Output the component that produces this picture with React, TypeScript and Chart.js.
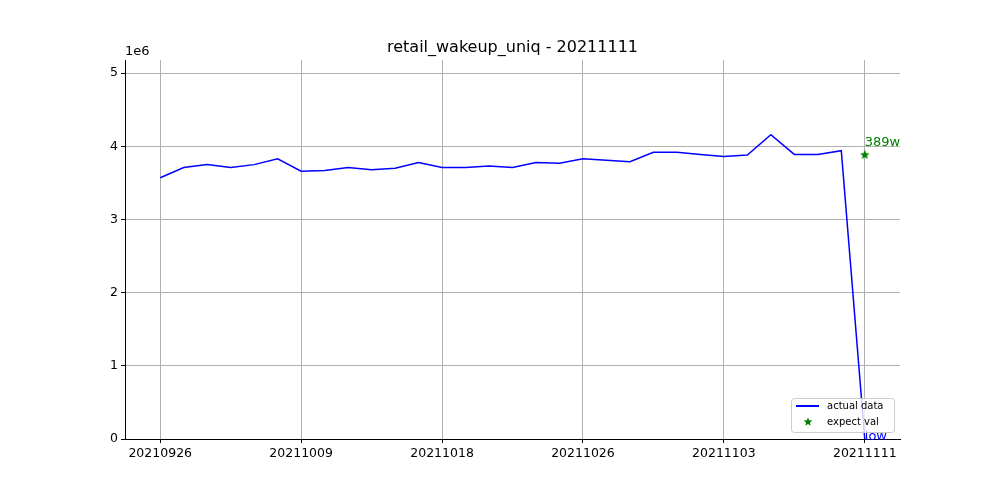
import { useRef, useEffect } from 'react';
import { Chart, registerables } from 'chart.js';

Chart.register(...registerables);

const tickLabels = ['20210926', '20211009', '20211018', '20211026', '20211103', '20211111'];
const actualData = [
  3.57, 3.71, 3.75, 3.71, 3.75, 3.83, 3.66, 3.67, 3.71, 3.68, 3.70, 3.78, 3.71, 3.71, 3.73, 3.71,
  3.78, 3.77, 3.83, 3.81, 3.79, 3.92, 3.92, 3.89, 3.86, 3.88, 4.16, 3.89, 3.89, 3.94, 0.0,
].map((v) => v * 1e6);
const expectIndex = 30;
const expectValue = 3.89e6;
const expectText = '389w';
const lowText = 'low';
const titleText = 'retail_wakeup_uniq - 20211111';

const categories = actualData.map((_, i) => String(i));
const font = 'DejaVu Sans';

function star(ctx: CanvasRenderingContext2D, cx: number, cy: number, r: number) {
  ctx.beginPath();
  for (let i = 0; i < 10; i++) {
    const rr = i % 2 === 0 ? r : r * 0.45;
    const a = -Math.PI / 2 + (i * Math.PI) / 5;
    ctx.lineTo(cx + rr * Math.cos(a), cy + rr * Math.sin(a));
  }
  ctx.closePath();
  ctx.fill();
}

function starImage() {
  const c = document.createElement('canvas');
  c.width = 12;
  c.height = 12;
  const g = c.getContext('2d')!;
  g.fillStyle = 'green';
  star(g, 6, 6.5, 5);
  return c;
}

const overlay = {
  id: 'overlay',
  afterDraw(chart: Chart) {
    const { ctx, chartArea, scales } = chart;
    const x = scales.x.getPixelForValue(expectIndex);
    ctx.save();
    ctx.fillStyle = '#000';
    ctx.font = `16px "${font}"`;
    ctx.textAlign = 'center';
    ctx.fillText(titleText, (chartArea.left + chartArea.right) / 2, chartArea.top - 8);
    ctx.textAlign = 'left';
    ctx.font = `13px "${font}"`;
    ctx.fillText('1e6', chartArea.left, chartArea.top - 5);
    ctx.fillStyle = 'green';
    ctx.fillText(expectText, x, scales.y.getPixelForValue(expectValue) - 8);
    ctx.fillStyle = 'blue';
    ctx.fillText(lowText, x, scales.y.getPixelForValue(0) + 1);
    // legend
    const lx = 791, ly = 398, lw = 103, lh = 34;
    ctx.fillStyle = 'rgba(255,255,255,0.8)';
    ctx.strokeStyle = '#ccc';
    ctx.lineWidth = 1;
    ctx.beginPath();
    ctx.roundRect(lx + 0.5, ly + 0.5, lw, lh, 3);
    ctx.fill();
    ctx.stroke();
    ctx.strokeStyle = 'blue';
    ctx.lineWidth = 2;
    ctx.beginPath();
    ctx.moveTo(796, 406);
    ctx.lineTo(819, 406);
    ctx.stroke();
    ctx.fillStyle = 'green';
    star(ctx, 808, 422, 4.5);
    ctx.fillStyle = '#000';
    ctx.font = `10px "${font}"`;
    ctx.textBaseline = 'middle';
    ctx.fillText('actual data', 827, 406);
    ctx.fillText('expect val', 827, 422);
    ctx.restore();
  },
};

export default function App() {
  const canvasRef = useRef<HTMLCanvasElement>(null);

  useEffect(() => {
    if (!canvasRef.current) return;
    const chart = new Chart(canvasRef.current, {
      type: 'line',
      data: {
        labels: categories,
        datasets: [
          {
            data: actualData,
            borderColor: 'blue',
            borderWidth: 1.5,
            pointRadius: 0,
            tension: 0,
          },
          {
            data: actualData.map((_, i) => (i === expectIndex ? expectValue : null)),
            borderColor: 'green',
            backgroundColor: 'green',
            showLine: false,
            pointStyle: starImage(),
            pointRadius: 5,
          },
        ],
      },
      options: {
        animation: false,
        responsive: false,
        layout: { padding: { left: 0, right: 100, top: 60, bottom: 36 } },
        plugins: {
          legend: { display: false },
          tooltip: { enabled: false },
          title: { display: false },
        },
        scales: {
          x: {
            min: -1.5,
            max: 31.5,
            type: 'linear',
            afterBuildTicks: (s: any) => {
              s.ticks = tickLabels.map((_, i) => ({ value: i * 6 }));
            },
            grid: { color: '#b0b0b0', drawTicks: true, tickLength: 4, tickColor: '#000' },
            border: { color: '#000' },
            ticks: {
              color: '#000',
              font: { family: font, size: 12.5 },
              maxRotation: 0,
              autoSkip: false,
              callback: (v: any) => tickLabels[Math.round(Number(v) / 6)] ?? '',
            },
          },
          y: {
            min: 0,
            max: 5.18e6,
            afterFit: (s: any) => {
              s.width = 125;
            },
            afterBuildTicks: (s: any) => {
              s.ticks = [0, 1, 2, 3, 4, 5].map((v) => ({ value: v * 1e6 }));
            },
            grid: { color: '#b0b0b0', tickLength: 4, tickColor: '#000' },
            border: { color: '#000' },
            ticks: {
              color: '#000',
              font: { family: font, size: 12.5 },
              callback: (v: any) => String(Number(v) / 1e6),
            },
          },
        },
      },
      plugins: [overlay],
    });
    return () => chart.destroy();
  }, []);

  return (
    <div style={{ margin: -8, width: 1000, height: 500, background: '#fff' }}>
      <canvas ref={canvasRef} width={1000} height={500} />
    </div>
  );
}
